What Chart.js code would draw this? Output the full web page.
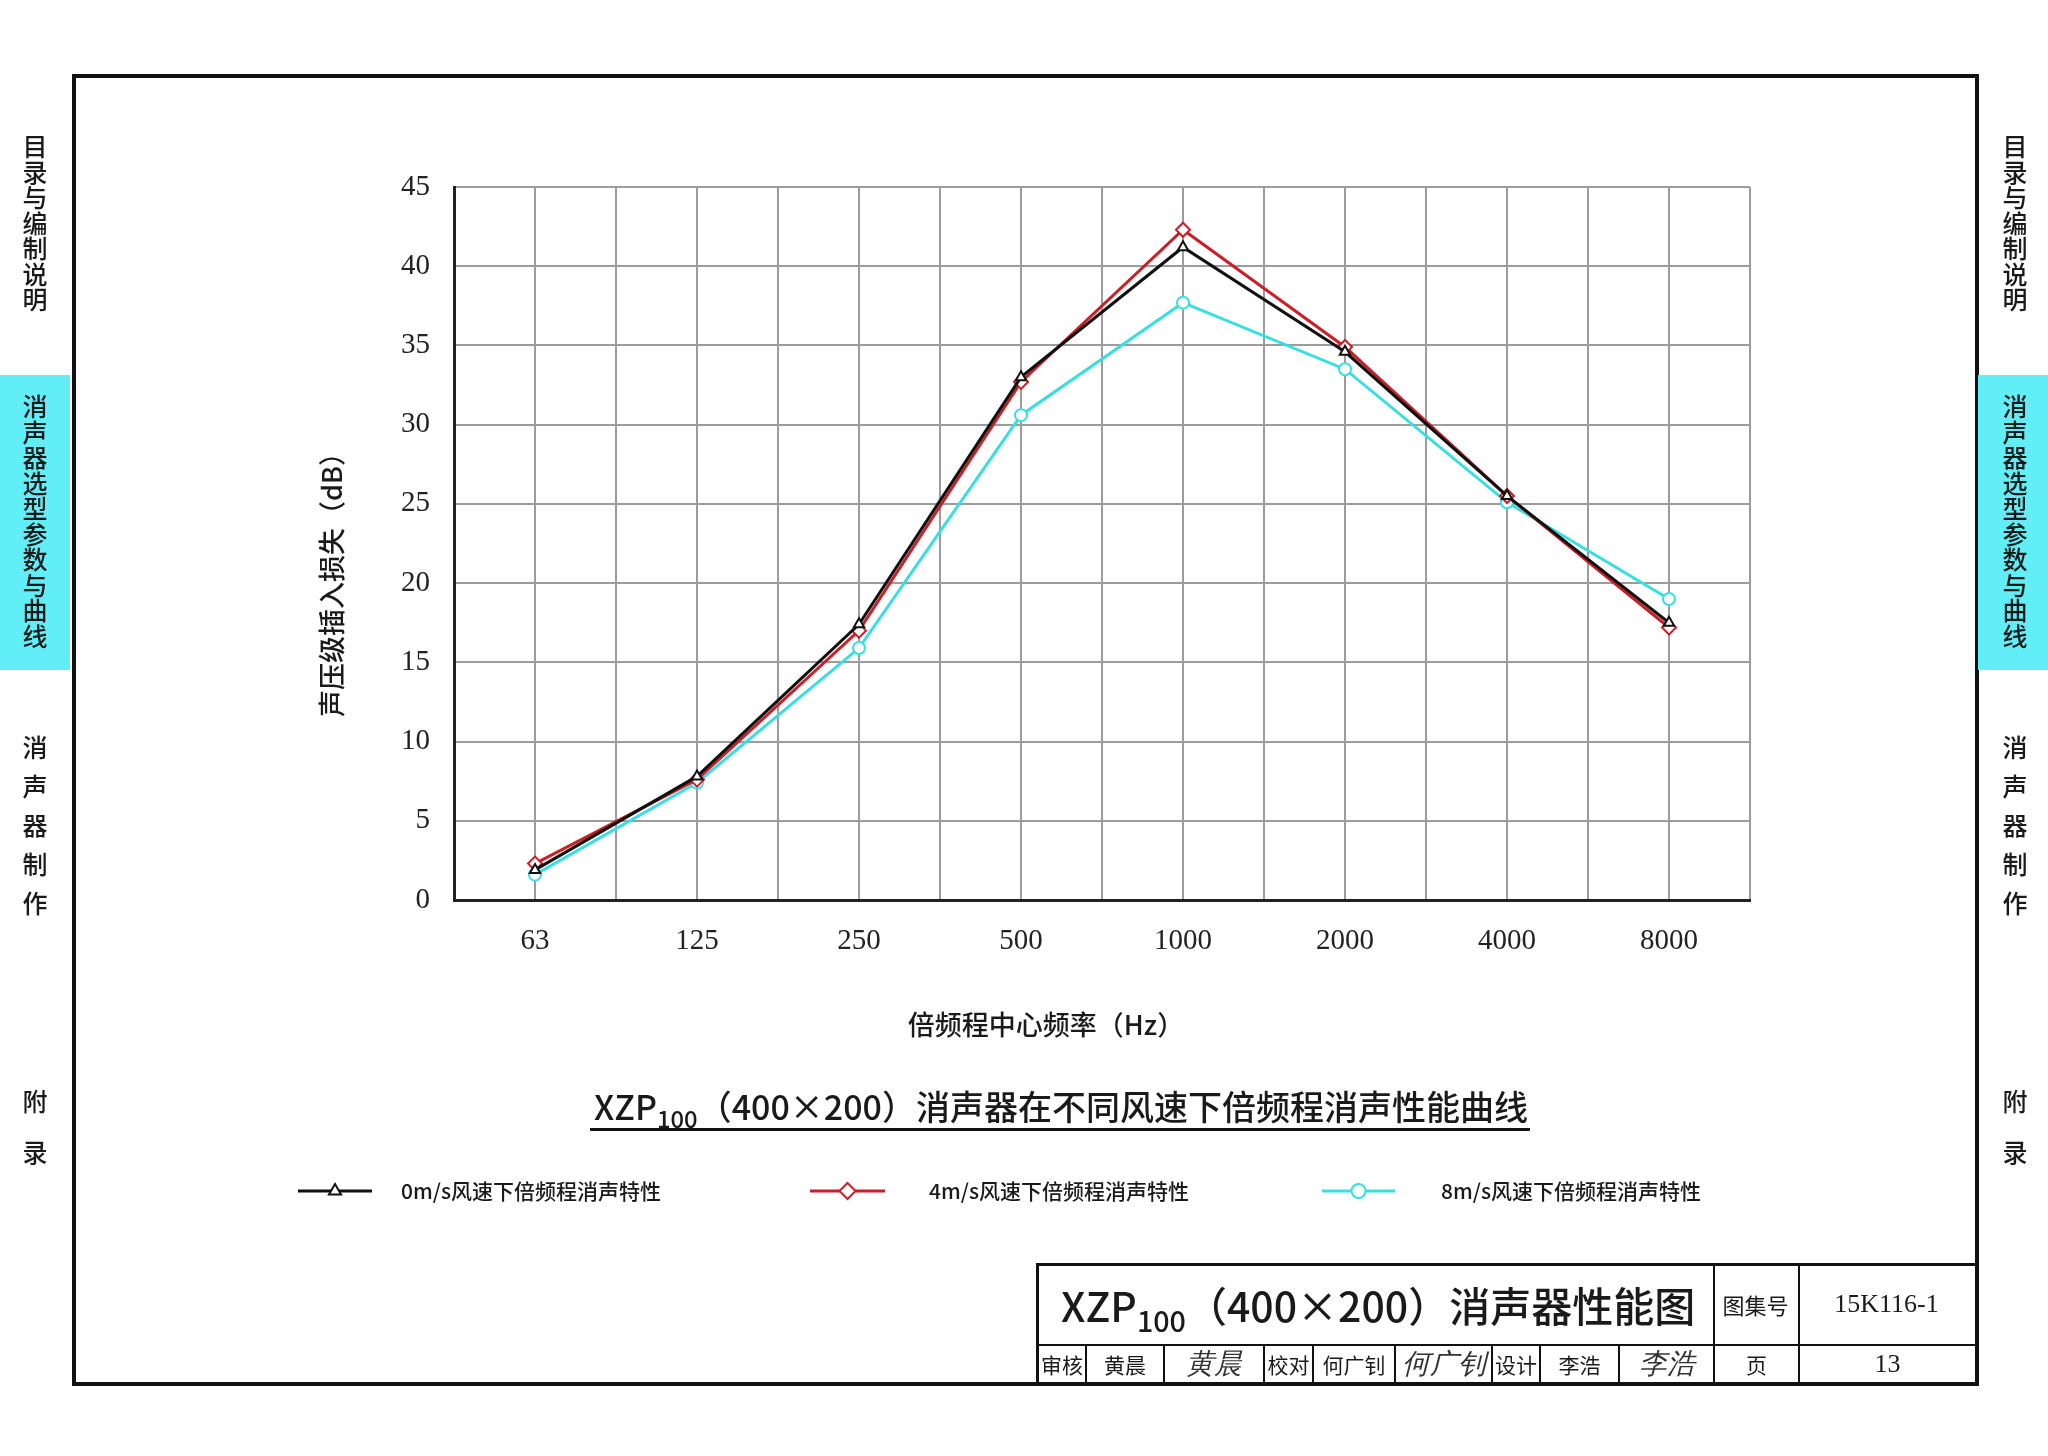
<!DOCTYPE html>
<html>
<head>
<meta charset="utf-8">
<script src="https://cdn.jsdelivr.net/npm/chart.js@4/dist/chart.umd.min.js"></script>
<style>
  body { margin: 0; width: 2048px; height: 1456px; background: #fff; position: relative; overflow: hidden;
         font-family: "Noto Sans CJK SC", sans-serif; color: #1a1a1a; }
  #c { position: absolute; left: 0; top: 0; }
  .abs { position: absolute; }
  .frame { left: 72px; top: 74px; width: 1899px; height: 1304px; border: 4px solid #111; }
  .tab { width: 70px; background: #62eef6; }
  .vtxt { width: 70px; text-align: center; font-size: 25px; font-weight: 500; line-height: 25.5px; }
  .title { left: 540px; width: 1042px; top: 1081px; text-align: center; font-size: 34px; font-weight: 500; }
  .title sub, .tb-title sub { font-size: 0.7em; vertical-align: -0.35em; }
  .uline { left: 590px; top: 1128px; width: 940px; height: 3px; background: #111; }
  .cell { position: absolute; border-left: 2px solid #111; box-sizing: border-box; text-align: center; }
  .hline { position: absolute; height: 2px; background: #111; }
  .serif { font-family: "Liberation Serif", serif; }
  .sig { font-family: "Liberation Serif", serif; font-style: italic; color: #333; }
</style>
</head>
<body>
<canvas id="c" width="2048" height="1456"></canvas>

<div class="abs frame"></div>

<!-- side tabs -->
<div class="abs tab" style="left:0; top:375px; height:295px;"></div>
<div class="abs tab" style="left:1978px; top:375px; height:295px;"></div>
<div class="abs vtxt" style="left:0; top:133px;">目<br>录<br>与<br>编<br>制<br>说<br>明</div>
<div class="abs vtxt" style="left:1980px; top:133px;">目<br>录<br>与<br>编<br>制<br>说<br>明</div>
<div class="abs vtxt" style="left:0; top:393px;">消<br>声<br>器<br>选<br>型<br>参<br>数<br>与<br>曲<br>线</div>
<div class="abs vtxt" style="left:1980px; top:393px;">消<br>声<br>器<br>选<br>型<br>参<br>数<br>与<br>曲<br>线</div>
<div class="abs vtxt" style="left:0; top:727px; line-height:39px;">消<br>声<br>器<br>制<br>作</div>
<div class="abs vtxt" style="left:1980px; top:727px; line-height:39px;">消<br>声<br>器<br>制<br>作</div>
<div class="abs vtxt" style="left:0; top:1075px; line-height:51px;">附<br>录</div>
<div class="abs vtxt" style="left:1980px; top:1075px; line-height:51px;">附<br>录</div>

<!-- chart title -->
<div class="abs title">XZP<sub>100</sub>（400×200）消声器在不同风速下倍频程消声性能曲线</div>
<div class="abs uline"></div>

<!-- title block -->
<div class="abs" style="left:1036px; top:1263px; width:939px; height:119px; border-top:3px solid #111; box-sizing:border-box;">
  <div class="hline" style="left:0; top:78px; width:939px;"></div>
  <div class="cell tb-title" style="left:0; top:0; width:677px; height:78px; border-left:3px solid #111; font-size:41px; font-weight:500; line-height:76px; padding-left:22px; text-align:left;">XZP<sub>100</sub>（400×200）消声器性能图</div>
  <div class="cell" style="left:677px; top:0; width:85px; height:116px;"></div>
  <div class="cell" style="left:762px; top:0; width:177px; height:116px;"></div>
  <div class="cell" style="left:677px; top:0; width:85px; height:78px; border:none; font-size:22px; line-height:76px;">图集号</div>
  <div class="cell serif" style="left:762px; top:0; width:177px; height:78px; border:none; font-size:26px; line-height:76px;">15K116-1</div>

  <div class="cell" style="left:0; top:80px; width:49px; height:36px; border-left:3px solid #111; font-size:21px; line-height:36px;">审核</div>
  <div class="cell" style="left:49px; top:80px; width:78px; height:36px; font-size:21px; line-height:36px;">黄晨</div>
  <div class="cell sig" style="left:127px; top:80px; width:100px; height:36px; font-size:28px; line-height:36px;">黄晨</div>
  <div class="cell" style="left:227px; top:80px; width:49px; height:36px; font-size:21px; line-height:36px;">校对</div>
  <div class="cell" style="left:276px; top:80px; width:82px; height:36px; font-size:21px; line-height:36px;">何广钊</div>
  <div class="cell sig" style="left:358px; top:80px; width:97px; height:36px; font-size:28px; line-height:36px;">何广钊</div>
  <div class="cell" style="left:455px; top:80px; width:48px; height:36px; font-size:21px; line-height:36px;">设计</div>
  <div class="cell" style="left:503px; top:80px; width:79px; height:36px; font-size:21px; line-height:36px;">李浩</div>
  <div class="cell sig" style="left:582px; top:80px; width:95px; height:36px; font-size:28px; line-height:36px;">李浩</div>
  <div class="cell" style="left:677px; top:80px; width:85px; height:36px; font-size:21px; line-height:36px;">页</div>
  <div class="cell serif" style="left:762px; top:80px; width:177px; height:36px; font-size:26px; line-height:36px;">13</div>
</div>

<script>
// octave band centre frequencies (Hz)
var freqLabels = ["63", "125", "250", "500", "1000", "2000", "4000", "8000"];

// insertion loss (dB) at each band
var loss0 = [1.9, 7.8, 17.4, 33.0, 41.2, 34.6, 25.5, 17.5];
var loss4 = [2.3, 7.6, 17.0, 32.7, 42.3, 34.9, 25.5, 17.2];
var loss8 = [1.6, 7.4, 15.9, 30.6, 37.7, 33.5, 25.1, 19.0];

var seriesNames = ["0m/s风速下倍频程消声特性", "4m/s风速下倍频程消声特性", "8m/s风速下倍频程消声特性"];

var yTicks = [0, 5, 10, 15, 20, 25, 30, 35, 40, 45];

var xTitle = '倍频程中心频率（Hz）';
var yTitle = '声压级插入损失（dB）';

function toPoints(arr) {
    return arr.map(function (v, i) { return { x: i, y: v }; });
}

// legend and axis titles drawn by hand so they sit where the drawing has them
var legendPos = [
    { x0: 298, x1: 372, tx: 401 },
    { x0: 810, x1: 885, tx: 929 },
    { x0: 1322, x1: 1395, tx: 1441 }
];
var legendY = 1191;

var sheetLegend = {
    id: 'sheetLegend',
    afterDraw: function (chart) {
        var ctx = chart.ctx;
        chart.data.datasets.forEach(function (ds, i) {
            var p = legendPos[i];
            ctx.save();
            ctx.strokeStyle = ds.borderColor;
            ctx.lineWidth = 3;
            ctx.beginPath();
            ctx.moveTo(p.x0, legendY);
            ctx.lineTo(p.x1, legendY);
            ctx.stroke();
            ctx.fillStyle = '#fff';
            ctx.lineWidth = 2;
            Chart.helpers.drawPoint(ctx, {
                pointStyle: ds.pointStyle,
                radius: ds.pointRadius + 1,
                rotation: 0,
                borderWidth: 2
            }, (p.x0 + p.x1) / 2, legendY);
            ctx.fillStyle = '#1a1a1a';
            ctx.font = '500 21px "Noto Sans CJK SC"';
            ctx.textBaseline = 'middle';
            ctx.fillText(ds.label, p.tx, legendY);
            ctx.restore();
        });

        // axis titles
        ctx.save();
        ctx.fillStyle = '#1a1a1a';
        ctx.font = '500 27px "Noto Sans CJK SC"';
        ctx.textAlign = 'center';
        ctx.textBaseline = 'middle';
        ctx.fillText(xTitle, 1046, 1025);
        ctx.translate(332, 578);
        ctx.rotate(-Math.PI / 2);
        ctx.fillText(yTitle, 0, 0);
        ctx.restore();
    }
};

var lineData = {
    datasets: [
        {
            label: seriesNames[0],
            data: toPoints(loss0),
            borderColor: "#111111",
            backgroundColor: "#ffffff",
            borderWidth: 3,
            pointStyle: 'triangle',
            pointRadius: 6,
            pointBorderWidth: 2,
            pointBackgroundColor: "#ffffff",
            tension: 0
        },
        {
            label: seriesNames[1],
            data: toPoints(loss4),
            borderColor: "#cc1e26",
            backgroundColor: "#ffffff",
            borderWidth: 3,
            pointStyle: 'rectRot',
            pointRadius: 7,
            pointBorderWidth: 2,
            pointBackgroundColor: "#ffffff",
            tension: 0
        },
        {
            label: seriesNames[2],
            data: toPoints(loss8),
            borderColor: "#38dfe2",
            backgroundColor: "#ffffff",
            borderWidth: 3,
            pointStyle: 'circle',
            pointRadius: 6,
            pointBorderWidth: 2,
            pointBackgroundColor: "#ffffff",
            tension: 0
        }
    ]
};

var lineOpts = {
    responsive: false,
    animation: false,
    layout: { padding: { left: 300, right: 298, top: 187, bottom: 396 } },
    plugins: {
        legend: { display: false },
        tooltip: { enabled: false }
    },
    scales: {
        x: {
            type: 'linear',
            min: -0.5,
            max: 7.5,
            afterBuildTicks: function (s) {
                var t = [];
                for (var v = -0.5; v <= 7.5; v += 0.5) t.push({ value: v });
                s.ticks = t;
            },
            afterFit: function (s) { s.height = 160; },
            grid: { color: '#9c9c9c', lineWidth: 2, drawTicks: false },
            border: { color: '#222', width: 3 },
            ticks: {
                autoSkip: false,
                maxRotation: 0,
                padding: 24,
                color: '#222',
                font: { family: 'Liberation Serif', size: 29 },
                callback: function (v) { return Number.isInteger(v) ? freqLabels[v] : ''; }
            }
        },
        y: {
            min: 0,
            max: 45,
            afterBuildTicks: function (s) {
                s.ticks = yTicks.map(function (v) { return { value: v }; });
            },
            afterFit: function (s) { s.width = 154; },
            grid: { color: '#9c9c9c', lineWidth: 2, drawTicks: false },
            border: { color: '#222', width: 3 },
            ticks: {
                padding: 24,
                color: '#222',
                font: { family: 'Liberation Serif', size: 29 }
            }
        }
    }
};

(function () {
    var ctx = document.getElementById("c").getContext("2d");
    var chart = new Chart(ctx, {
        type: 'line',
        data: lineData,
        options: lineOpts,
        plugins: [sheetLegend]
    });
})();
</script>
</body>
</html>
